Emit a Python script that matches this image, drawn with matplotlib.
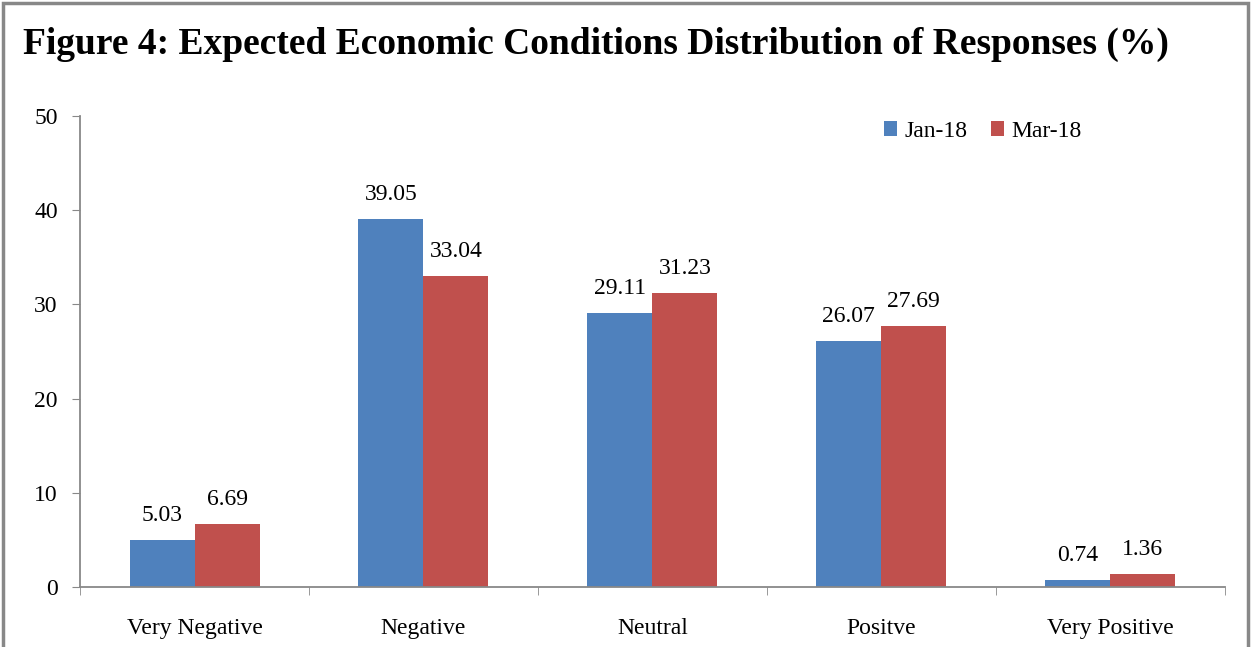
#!/usr/bin/env python
# Figure 4: expected economic conditions, distribution of responses (%)
import numpy as np, matplotlib; matplotlib.use("Agg")
import matplotlib.pyplot as plt
from matplotlib.patches import Rectangle

cats = ["Very Negative", "Negative", "Neutral", "Positve", "Very Positive"]
jan18 = [5.03, 39.05, 29.11, 26.07, 0.74]
mar18 = [6.69, 33.04, 31.23, 27.69, 1.36]
series = ["Jan-18", "Mar-18"]

plt.rcParams["font.family"] = ["Liberation Serif", "DejaVu Serif"]
fig = plt.figure(figsize=(12.51, 6.47), dpi=100)
ax = fig.add_axes([0.064, 0.0927, 0.915, 0.728])

x = np.arange(len(cats)); w = 0.284
b1 = ax.bar(x - w / 2, jan18, w, color="#4F81BD", label=series[0])
b2 = ax.bar(x + w / 2, mar18, w, color="#C0504D", label=series[1])
for bars, vals in [(b1, jan18), (b2, mar18)]:
    for r, v in zip(bars, vals):
        ax.text(r.get_x() + r.get_width() / 2, v + 1.5, f"{v:.2f}", ha="center", va="bottom", fontsize=17)

ax.set_xlim(-0.5, len(cats) - 0.5); ax.set_ylim(0, 50)
ax.set_yticks(range(0, 51, 10))
ax.set_xticks(x); ax.set_xticklabels(cats, fontsize=17)
ax.set_xticks(np.arange(-0.5, len(cats)), minor=True)
ax.tick_params(axis="x", which="major", length=0, pad=22)
ax.tick_params(axis="x", which="minor", length=6, color="#888888")
ax.tick_params(axis="y", length=6, color="#888888", labelsize=17, pad=10)
for s in ["top", "right"]: ax.spines[s].set_visible(False)
for s in ["left", "bottom"]: ax.spines[s].set_color("#888888"); ax.spines[s].set_linewidth(1.3)

ax.legend(loc="upper left", bbox_to_anchor=(0.684, 1.035), ncol=2, frameon=False, fontsize=17,
          handlelength=0.55, handleheight=0.55, handletextpad=0.3, columnspacing=1.0)

fig.text(0.018, 0.932, "Figure 4: Expected Economic Conditions Distribution of Responses (%)",
         fontsize=27, fontweight="bold", va="center", ha="left")
fig.add_artist(Rectangle((0.002, -0.05), 0.996, 1.046, transform=fig.transFigure,
                         fill=False, edgecolor="#888888", linewidth=2.5))

plt.savefig("out.png", dpi=100)
